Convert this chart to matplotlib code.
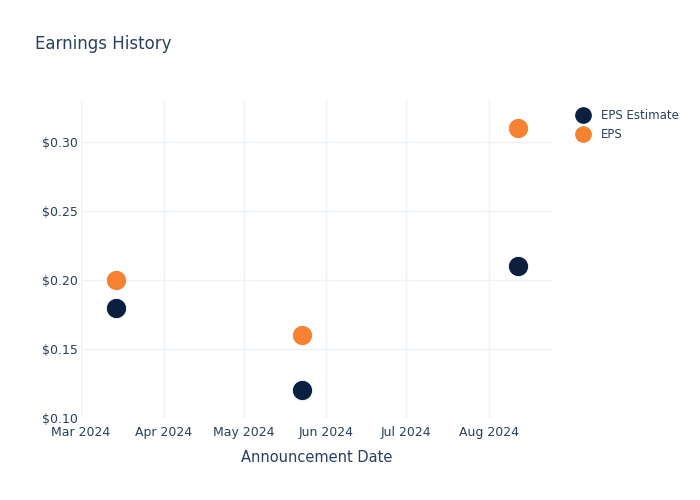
import pandas as pd
import matplotlib.pyplot as plt
import matplotlib.dates as mdates
from matplotlib.lines import Line2D

# data
dates = pd.to_datetime(["2024-03-14", "2024-05-23", "2024-08-12"])
eps_estimate = [0.18, 0.12, 0.21]
eps_actual = [0.20, 0.16, 0.31]
y_ticks = [0.10, 0.15, 0.20, 0.25, 0.30]

navy = "#0b1f41"
orange = "#f58233"
text_col = "#2a3f5f"
grid_col = "#edf1f8"

fig = plt.figure(figsize=(7, 5), dpi=100)
ax = fig.add_axes([81 / 700, 1 - 418 / 500, (553 - 81) / 700, (418 - 100) / 500])

ax.scatter(dates, eps_estimate, s=210, color=navy, edgecolor="white", linewidth=0.6, zorder=3)
ax.scatter(dates, eps_actual, s=210, color=orange, edgecolor="white", linewidth=0.6, zorder=3)

ax.set_xlim(pd.Timestamp("2024-03-01"), pd.Timestamp("2024-08-25"))
ax.set_ylim(0.10, 0.3304)
ax.xaxis.set_major_locator(mdates.MonthLocator())
ax.xaxis.set_major_formatter(mdates.DateFormatter("%b %Y"))
ax.set_yticks(y_ticks)
ax.set_yticklabels(["$%.2f" % v for v in y_ticks])

ax.grid(True, color=grid_col, linewidth=1)
ax.set_axisbelow(True)
for s in ax.spines.values():
    s.set_visible(False)
ax.tick_params(length=0, labelsize=9, colors=text_col)
ax.tick_params(axis="x", pad=5.5)
ax.tick_params(axis="y", pad=2)

ax.set_xlabel("Announcement Date", fontsize=10.5, color=text_col, labelpad=8)
fig.text(35 / 700, 1 - 44 / 500, "Earnings History", fontsize=12, color=text_col, va="center")

handles = [
    Line2D([], [], marker="o", linestyle="", markersize=11, color=navy, label="EPS Estimate"),
    Line2D([], [], marker="o", linestyle="", markersize=11, color=orange, label="EPS"),
]
leg = fig.legend(handles=handles, loc="upper left", bbox_to_anchor=(570 / 700, 1 - 103 / 500),
                 frameon=False, fontsize=8.5, handletextpad=0.95, labelspacing=0.55,
                 borderpad=0, handlelength=1.2)
for t in leg.get_texts():
    t.set_color(text_col)

fig.savefig("out.png", dpi=100)
